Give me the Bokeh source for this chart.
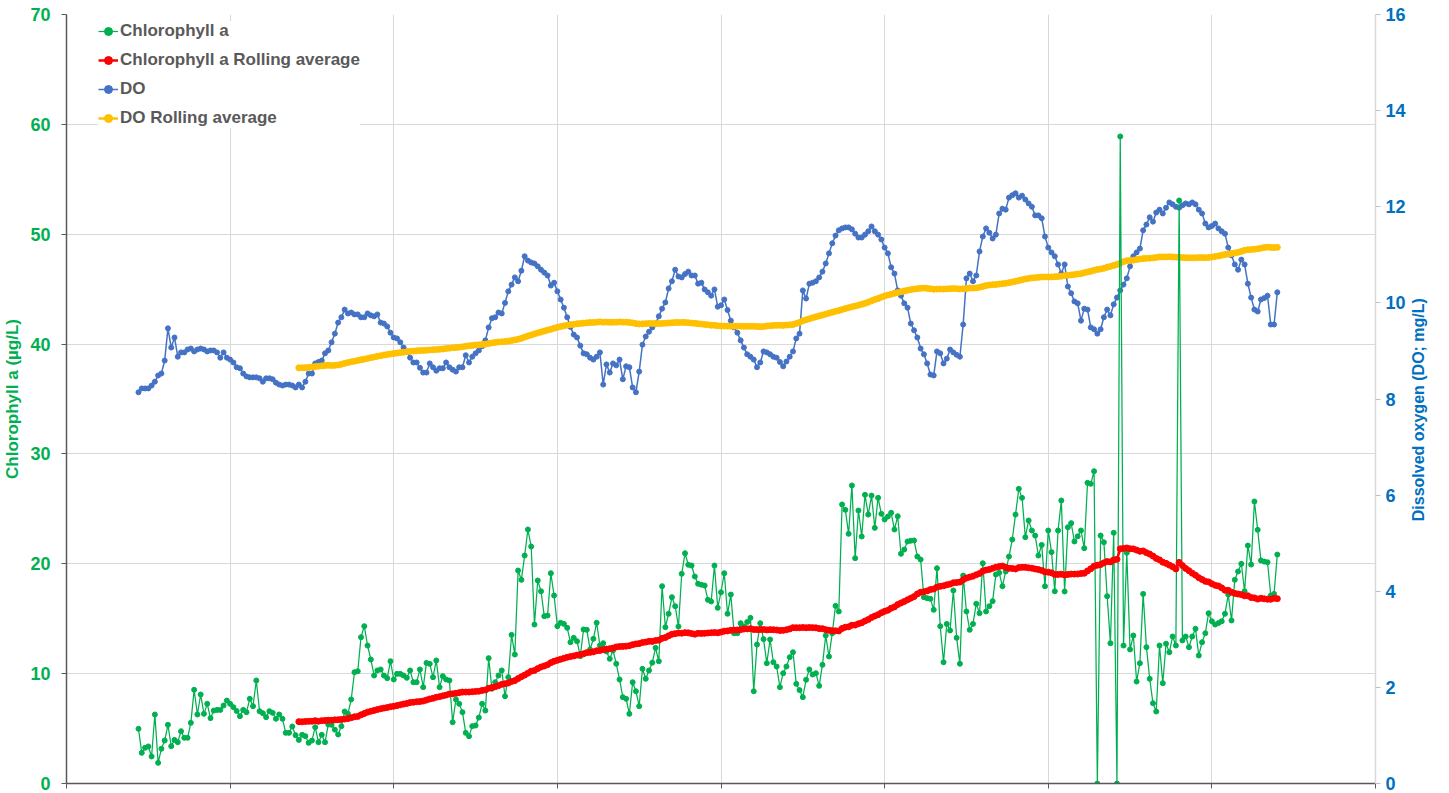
import math
import numpy as np
import pandas as pd
from bokeh.plotting import figure
from bokeh.models import Range1d, LinearAxis, FixedTicker, Legend, LegendItem
from bokeh.embed import file_html
from bokeh.resources import INLINE

# ---------------- data (daily samples, day index) ----------------
start_day = 22
rolling_window = 50

# 0.00 entries are missing samples (plotted at zero, left out of the rolling average)
chl_a = [
    4.98, 2.79, 3.25, 3.37, 2.46, 6.28, 1.88, 3.16, 3.91, 5.34,
    3.40, 3.97, 3.76, 4.76, 4.16, 4.16, 5.52, 8.53, 6.28, 8.10,
    6.34, 7.25, 5.95, 6.64, 6.70, 6.70, 7.10, 7.55, 7.25, 6.95,
    6.60, 6.13, 6.70, 6.49, 7.71, 7.04, 9.38, 6.58, 6.40, 6.04,
    6.58, 6.43, 5.89, 6.28, 5.89, 4.61, 4.61, 5.19, 4.40, 3.97,
    4.43, 4.31, 3.70, 3.91, 5.13, 3.76, 4.43, 3.76, 5.37, 5.34,
    4.90, 4.46, 5.22, 6.55, 6.34, 7.65, 10.13, 10.22, 13.32, 14.32,
    12.56, 11.29, 9.83, 10.29, 10.38, 9.83, 9.59, 11.13, 9.47, 9.98,
    9.98, 9.83, 9.62, 10.29, 9.22, 9.22, 10.38, 8.77, 10.98, 10.89,
    9.68, 11.20, 8.77, 9.77, 9.47, 9.38, 5.58, 7.65, 7.25, 6.49,
    4.61, 4.31, 5.22, 5.28, 6.00, 7.25, 6.64, 11.41, 8.62, 9.22,
    9.83,
    10.29, 7.95, 9.68, 13.53, 11.74, 19.39, 18.54, 20.75, 23.12, 21.57,
    14.47, 18.48, 17.50, 15.23, 15.29, 19.14, 17.11, 14.32, 14.63, 14.53,
    14.17, 12.86, 13.26, 12.95, 11.59, 14.02, 13.99, 12.20, 13.17, 14.63,
    12.56, 12.77, 12.02, 11.35, 12.11, 10.90, 9.47, 7.86, 7.71, 6.34,
    9.22, 8.40, 7.04, 10.44, 9.53, 10.29, 11.00, 12.35, 11.13, 17.96,
    14.23, 15.45, 16.96, 16.14, 14.29, 19.09, 20.96, 19.91, 19.84, 18.84,
    18.18, 18.10, 18.02, 16.72, 16.57, 19.84, 15.99, 17.41, 19.14, 15.45,
    17.20, 13.68, 13.68, 14.59, 14.29, 14.70, 15.08, 8.40, 12.65, 14.59,
    13.14, 10.95, 13.11, 11.04, 10.65, 8.77, 10.04, 10.65, 11.50, 11.95,
    9.07, 8.50, 7.86, 9.44, 10.38, 9.92, 10.04, 8.89, 10.80, 13.47,
    11.56, 13.68, 16.17, 15.66, 25.40, 24.91, 22.73, 27.13, 20.51, 24.85,
    22.48, 26.28, 24.48, 26.21, 23.27, 26.00, 24.55, 24.03, 24.30, 24.64,
    23.12, 24.33, 20.91, 21.30, 22.03, 22.10, 22.12, 20.66, 20.39, 16.96,
    16.87, 16.81, 15.81, 19.60, 14.32, 11.04, 14.53, 13.93,
    17.57, 13.26, 10.90, 18.93, 15.66, 13.99, 14.53, 16.36, 15.50, 20.05,
    15.66, 16.14, 16.60, 19.02, 19.18, 17.96, 19.30, 20.66, 22.21, 24.48,
    26.82, 26.00, 22.42, 23.94, 23.03, 22.57, 20.75, 21.72, 17.96, 23.03,
    21.06, 17.50, 23.03, 25.76, 17.48, 23.33, 23.70, 22.03, 22.50, 23.03,
    21.42, 27.37, 27.28, 28.43, 0.00, 22.57, 21.96, 17.05, 12.77, 22.82,
    0.00, 58.90, 12.56, 21.00, 12.20, 13.47, 9.28, 10.95, 17.26, 12.41,
    9.53, 7.31, 6.55, 12.56, 9.13, 12.72, 11.95, 13.38, 12.56, 53.07,
    13.02, 13.38, 12.41, 13.38, 14.08, 11.65, 12.86, 13.68, 15.50, 14.77,
    14.47, 14.60, 14.77, 15.45, 17.20, 14.84, 18.54, 19.30, 20.00, 17.50,
    21.66, 19.93, 25.67, 23.09, 20.30, 20.20, 20.14, 17.11, 17.26, 20.84,
]

dissolved_oxygen = [
    8.14, 8.22, 8.22, 8.22, 8.28, 8.36, 8.49, 8.53, 8.80, 9.47,
    9.07, 9.28, 8.88, 8.97, 8.97, 9.03, 9.05, 8.99, 9.03, 9.05,
    9.03, 8.99, 9.01, 9.01, 8.97, 8.86, 8.97, 8.86, 8.82, 8.76,
    8.66, 8.64, 8.53, 8.47, 8.45, 8.45, 8.45, 8.43, 8.36, 8.43,
    8.43, 8.41, 8.34, 8.30, 8.28, 8.30, 8.30, 8.28, 8.24, 8.30,
    8.24, 8.36, 8.53, 8.53, 8.74, 8.77, 8.80, 8.95, 9.01, 9.18,
    9.36, 9.59, 9.70, 9.86, 9.78, 9.80, 9.76, 9.76, 9.70, 9.70,
    9.78, 9.74, 9.72, 9.76, 9.59, 9.57, 9.51, 9.38, 9.28, 9.26,
    9.18, 9.07, 8.99, 8.86, 8.76, 8.76, 8.65, 8.55, 8.55, 8.74,
    8.66, 8.59, 8.64, 8.64, 8.76, 8.66, 8.61, 8.57, 8.66, 8.66,
    8.91, 8.76, 8.88, 8.95, 9.01, 9.10, 9.22, 9.49, 9.68, 9.70,
    9.80,
    9.78, 10.00, 10.24, 10.38, 10.53, 10.45, 10.67, 10.97, 10.88, 10.84,
    10.82, 10.76, 10.69, 10.63, 10.57, 10.36, 10.42, 10.24, 10.07, 9.90,
    9.70, 9.50, 9.34, 9.28, 9.11, 8.95, 8.93, 8.86, 8.82, 8.88,
    8.97, 8.30, 8.72, 8.55, 8.74, 8.70, 8.82, 8.41, 8.68, 8.66,
    8.24, 8.14, 8.57, 9.13, 9.30, 9.40, 9.49, 9.57, 9.72, 9.88,
    10.01, 10.30, 10.45, 10.69, 10.55, 10.53, 10.60, 10.65, 10.57, 10.57,
    10.40, 10.42, 10.28, 10.22, 10.15, 10.28, 9.92, 9.95, 10.07, 9.85,
    9.63, 9.49, 9.38, 9.22, 9.07, 8.93, 8.88, 8.82, 8.66, 8.76,
    8.99, 8.97, 8.93, 8.88, 8.86, 8.77, 8.68, 8.78, 8.88, 8.99,
    9.26, 9.36, 10.26, 10.09, 10.40, 10.42, 10.45, 10.53, 10.65, 10.82,
    11.03, 11.24, 11.40, 11.51, 11.55, 11.57, 11.57, 11.53, 11.44, 11.36,
    11.36, 11.42, 11.49, 11.59, 11.49, 11.42, 11.32, 11.15, 11.03, 10.74,
    10.61, 10.26, 10.15, 9.99, 9.90,
    9.57, 9.43, 9.28, 9.05, 8.93, 8.74, 8.51, 8.49, 8.99, 8.95,
    8.74, 8.84, 9.03, 8.97, 8.92, 8.88, 9.55, 10.51, 10.61, 10.45,
    10.57, 11.07, 11.38, 11.55, 11.46, 11.34, 11.42, 11.86, 11.96, 11.94,
    12.19, 12.24, 12.28, 12.19, 12.23, 12.15, 12.07, 12.00, 11.82, 11.82,
    11.76, 11.38, 11.15, 11.05, 10.97, 10.80, 10.61, 10.80, 10.34, 10.20,
    10.03, 9.99, 9.63, 9.88, 9.86, 9.49, 9.45, 9.36, 9.45, 9.70,
    9.86, 9.74, 9.97, 10.11, 10.26, 10.38, 10.51, 10.76, 10.97, 11.05,
    11.13, 11.51, 11.63, 11.78, 11.69, 11.88, 11.94, 11.86, 11.98, 12.09,
    12.05, 12.00, 11.98, 12.03, 12.07, 12.05, 12.09, 12.05, 11.94, 11.86,
    11.65, 11.57, 11.60, 11.65, 11.55, 11.49, 11.44, 11.15, 10.99, 10.80,
    10.69, 10.90, 10.80, 10.40, 10.11, 9.86, 9.82, 10.07, 10.10, 10.15,
    9.55, 9.55, 10.22,
]

chl_ticks = [0, 10, 20, 30, 40, 50, 60, 70]
do_ticks = [0, 2, 4, 6, 8, 10, 12, 14, 16]
day_ticks = [0, 50, 100, 150, 200, 250, 300, 350, 400]

days = list(range(start_day, start_day + len(chl_a)))


def trailing_mean(values, window):
    s = pd.Series(values, dtype=float).replace(0.0, np.nan)
    r = s.rolling(window, min_periods=1).mean()
    r.iloc[:window - 1] = np.nan
    return r.tolist()


chl_roll = trailing_mean(chl_a, rolling_window)
do_roll = trailing_mean(dissolved_oxygen, rolling_window)

# ---------------- styles ----------------
GREEN = "#00B050"
RED = "#FF0000"
BLUE = "#4472C4"
YELLOW = "#FFC000"
AX_BLUE = "#0070C0"
GRID = "#D9D9D9"
DARK = "#595959"
FONT = "Liberation Sans"

p = figure(width=1441, height=793, x_range=Range1d(0, 400), y_range=Range1d(0, 70),
           output_backend="svg", toolbar_location=None,
           min_border_left=65, min_border_right=66, min_border_top=14, min_border_bottom=10)
p.outline_line_color = None
p.background_fill_color = "white"
p.border_fill_color = "white"

p.extra_y_ranges = {"do": Range1d(0, 16)}

# grids
p.xgrid.ticker = FixedTicker(ticks=day_ticks)
p.ygrid.ticker = FixedTicker(ticks=chl_ticks)
p.grid.grid_line_color = GRID
p.grid.grid_line_width = 1

# x axis (ticks only, no labels shown)
xa = p.xaxis[0]
xa.ticker = FixedTicker(ticks=day_ticks)
xa.major_label_text_font_size = "1px"
xa.major_label_text_color = None
xa.major_label_standoff = 0
xa.axis_line_color = DARK
xa.axis_line_width = 1.5
xa.major_tick_line_color = DARK
xa.major_tick_out = 5
xa.major_tick_in = 0
xa.minor_tick_line_color = None

# left axis
ya = p.yaxis[0]
ya.ticker = FixedTicker(ticks=chl_ticks)
ya.major_label_text_color = GREEN
ya.major_label_text_font = FONT
ya.major_label_text_font_style = "bold"
ya.major_label_text_font_size = "18px"
ya.major_label_standoff = 11
ya.axis_line_color = DARK
ya.axis_line_width = 1.5
ya.major_tick_line_color = DARK
ya.major_tick_out = 5
ya.major_tick_in = 0
ya.minor_tick_line_color = None
ya.axis_label = "Chlorophyll a (µg/L)"
ya.axis_label_text_color = GREEN
ya.axis_label_text_font = FONT
ya.axis_label_text_font_style = "bold"
ya.axis_label_text_font_size = "17px"
ya.axis_label_standoff = 5

# right axis (title reads bottom-to-top; anchored at the axis start and
# lifted with no-break spaces so that it sits where the reference has it)
ra = LinearAxis(y_range_name="do", ticker=FixedTicker(ticks=do_ticks))
ra.major_label_text_color = AX_BLUE
ra.major_label_text_font = FONT
ra.major_label_text_font_style = "bold"
ra.major_label_text_font_size = "18px"
ra.major_label_standoff = 5
ra.axis_line_color = GRID
ra.axis_line_width = 1.5
ra.major_tick_line_color = "#BFBFBF"
ra.major_tick_out = 5
ra.major_tick_in = 0
ra.minor_tick_line_color = None
ra.axis_label = "\u00a0" * 59 + "Dissolved oxygen (DO; mg/L)"
ra.axis_label_orientation = math.pi / 2
ra.axis_label_align = "start"
ra.axis_label_text_color = AX_BLUE
ra.axis_label_text_font = FONT
ra.axis_label_text_font_style = "bold"
ra.axis_label_text_font_size = "16px"
ra.axis_label_standoff = 10
p.add_layout(ra, "right")

# series
do_line = p.line(days, dissolved_oxygen, y_range_name="do", color=BLUE, line_width=1.5)
do_pts = p.scatter(days, dissolved_oxygen, y_range_name="do", color=BLUE, size=5)
dor_line = p.line(days, do_roll, y_range_name="do", color=YELLOW, line_width=2.5)
dor_pts = p.scatter(days, do_roll, y_range_name="do", color=YELLOW, size=6)
chl_line = p.line(days, chl_a, color=GREEN, line_width=1.25)
chl_pts = p.scatter(days, chl_a, color=GREEN, size=5)
chr_line = p.line(days, chl_roll, color=RED, line_width=2.5)
chr_pts = p.scatter(days, chl_roll, color=RED, size=6)

legend = Legend(items=[
    LegendItem(label="Chlorophyll a", renderers=[chl_line, chl_pts]),
    LegendItem(label="Chlorophyll a Rolling average", renderers=[chr_line, chr_pts]),
    LegendItem(label="DO", renderers=[do_line, do_pts]),
    LegendItem(label="DO Rolling average", renderers=[dor_line, dor_pts]),
], location=(32, 655))
legend.margin = 0
legend.padding = 6
legend.spacing = 9
legend.label_height = 20
legend.glyph_height = 20
legend.glyph_width = 20
legend.label_standoff = 2
legend.label_text_font = FONT
legend.label_text_font_style = "bold"
legend.label_text_font_size = "17px"
legend.label_text_color = DARK
legend.background_fill_color = "white"
legend.background_fill_alpha = 1.0
legend.border_line_color = None
p.add_layout(legend)

open("out.html", "w").write(file_html(p, INLINE))
